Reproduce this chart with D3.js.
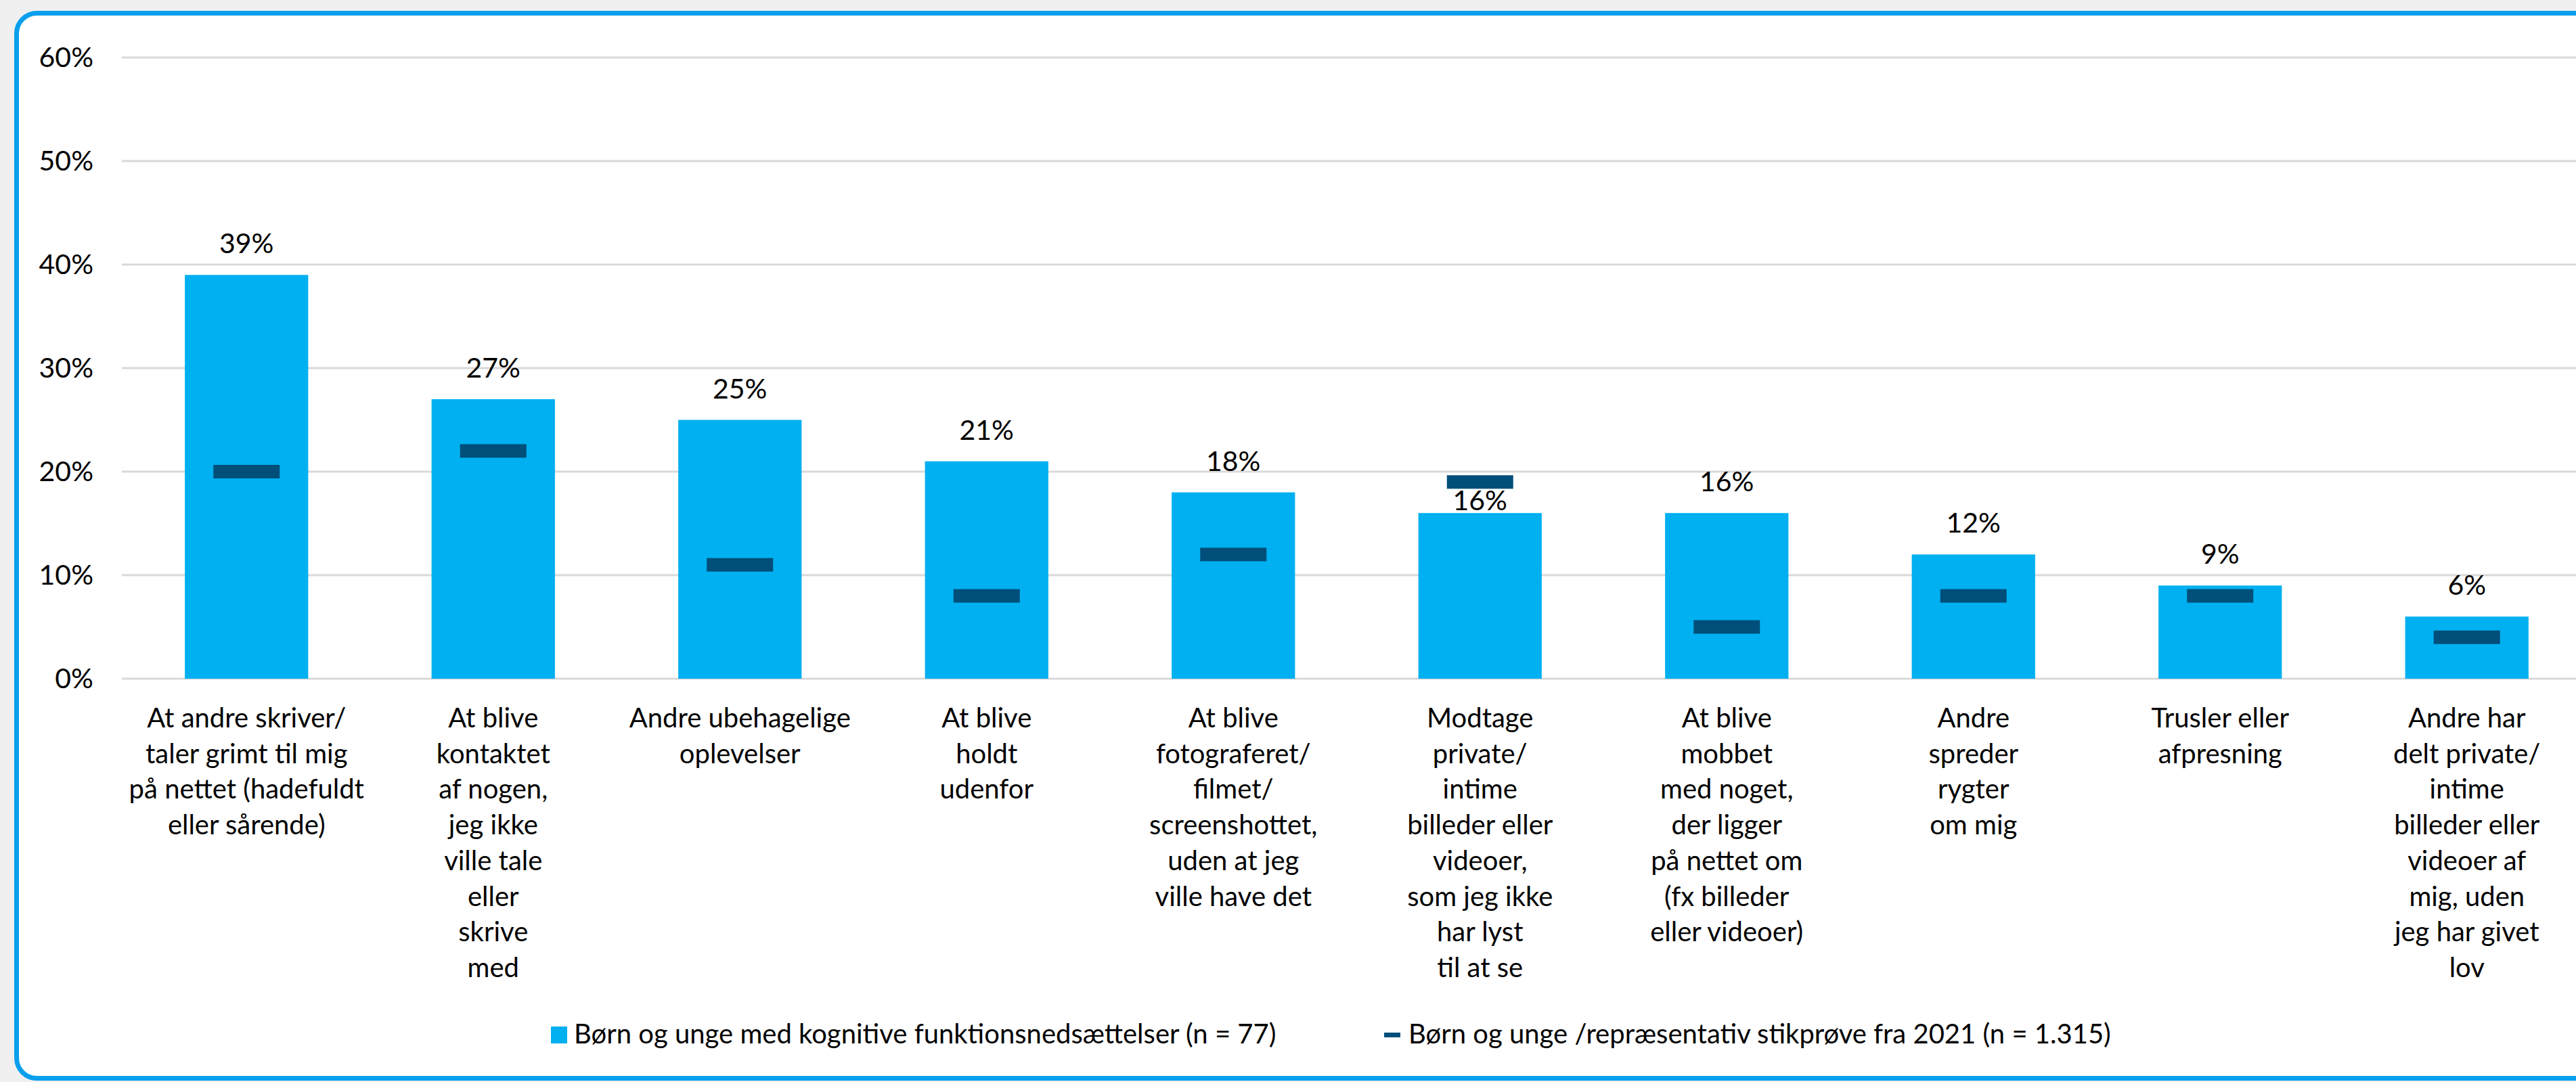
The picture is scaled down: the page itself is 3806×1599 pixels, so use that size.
<!DOCTYPE html>
<html>
<head>
<meta charset="utf-8">
<script src="https://cdn.jsdelivr.net/npm/d3@7"></script>
<style>
  html, body { margin: 0; padding: 0; background: #f0f0f0; }
  svg { display: block; }
  text { font-family: Lato, "Open Sans", sans-serif; fill: #000; }
</style>
</head>
<body>
<svg id="chart" width="3806" height="1599"></svg>
<script>
// ---- data ----
const categories = [
  ["At andre skriver/", "taler grimt til mig", "på nettet (hadefuldt", "eller sårende)"],
  ["At blive", "kontaktet", "af nogen,", "jeg ikke", "ville tale", "eller", "skrive", "med"],
  ["Andre ubehagelige", "oplevelser"],
  ["At blive", "holdt", "udenfor"],
  ["At blive", "fotograferet/", "filmet/", "screenshottet,", "uden at jeg", "ville have det"],
  ["Modtage", "private/", "intime", "billeder eller", "videoer,", "som jeg ikke", "har lyst", "til at se"],
  ["At blive", "mobbet", "med noget,", "der ligger", "på nettet om", "(fx billeder", "eller videoer)"],
  ["Andre", "spreder", "rygter", "om mig"],
  ["Trusler eller", "afpresning"],
  ["Andre har", "delt private/", "intime", "billeder eller", "videoer af", "mig, uden", "jeg har givet", "lov"]
];
const barValues = [0.39, 0.27, 0.25, 0.21, 0.18, 0.16, 0.16, 0.12, 0.09, 0.06];
const refValues = [0.20, 0.22, 0.11, 0.08, 0.12, 0.19, 0.05, 0.08, 0.08, 0.04];
const yTicks = [0, 0.1, 0.2, 0.3, 0.4, 0.5, 0.6];
const seriesNames = [
  "Børn og unge med kognitive funktionsnedsættelser (n = 77)",
  "Børn og unge /repræsentativ stikprøve fra 2021 (n = 1.315)"
];

// ---- layout ----
const W = 3806, H = 1599;
const plotLeft = 182, plotRight = 3827, plotTop = 85, plotBottom = 1003;
const barColor = "#00b0f0", refColor = "#004f7a", gridColor = "#d9d9d9";
const fmt = d3.format(".0%");

const svg = d3.select("#chart");

// card with rounded border (right side runs off the picture)
svg.append("rect")
  .attr("x", 24.5).attr("y", 19.5)
  .attr("width", 3900).attr("height", 1574)
  .attr("rx", 30).attr("ry", 30)
  .attr("fill", "#ffffff")
  .attr("stroke", "#0a9fec")
  .attr("stroke-width", 7);

const idx = d3.range(categories.length);
const x = d3.scaleBand().domain(idx).range([plotLeft, plotRight])
  .paddingInner(0.5).paddingOuter(0.25);
const y = d3.scaleLinear().domain([0, 0.6]).range([plotBottom, plotTop]);

// gridlines
svg.append("g").selectAll("line").data(yTicks).join("line")
  .attr("x1", plotLeft - 2).attr("x2", W)
  .attr("y1", d => y(d)).attr("y2", d => y(d))
  .attr("stroke", gridColor).attr("stroke-width", 3);

// y axis labels
const yAxis = svg.append("g").attr("transform", "translate(138,0)")
  .call(d3.axisLeft(y).tickValues(yTicks).tickFormat(fmt).tickSize(0).tickPadding(0));
yAxis.select(".domain").remove();
yAxis.selectAll("text")
  .style("font-family", "Lato, 'Open Sans', sans-serif")
  .attr("font-size", 41).attr("font-weight", 400).attr("fill", "#000");

// bars
svg.append("g").selectAll("rect").data(idx).join("rect")
  .attr("x", i => x(i)).attr("width", x.bandwidth())
  .attr("y", i => y(barValues[i]))
  .attr("height", i => y(0) - y(barValues[i]))
  .attr("fill", barColor);

// reference markers
const mW = 98, mH = 20;
svg.append("g").selectAll("rect").data(idx).join("rect")
  .attr("x", i => x(i) + x.bandwidth() / 2 - mW / 2)
  .attr("width", mW)
  .attr("y", i => y(refValues[i]) - mH / 2)
  .attr("height", mH)
  .attr("fill", refColor);

// value labels
svg.append("g").selectAll("text").data(idx).join("text")
  .attr("x", i => x(i) + x.bandwidth() / 2)
  .attr("y", i => {
    const top = y(barValues[i]);
    const mTop = y(refValues[i]) - mH / 2;
    // if the reference marker sits just above the bar, put the label between
    if (refValues[i] > barValues[i] && top - mTop < 70) return top - 4;
    return top - 32;
  })
  .attr("text-anchor", "middle")
  .attr("font-size", 41).attr("font-weight", 400)
  .text(i => fmt(barValues[i]));

// category labels (x axis)
const xAxis = svg.append("g").attr("transform", `translate(0,${plotBottom})`)
  .call(d3.axisBottom(x).tickSize(0).tickFormat(""));
xAxis.select(".domain").remove();
const lineH = 52.7;
xAxis.selectAll(".tick").each(function(i) {
  const t = d3.select(this).append("text")
    .attr("text-anchor", "middle")
    .attr("font-size", 40)
    .attr("y", 72);
  categories[i].forEach((ln, k) => {
    t.append("tspan").attr("x", 0).attr("y", 72 + k * lineH).text(ln);
  });
});

// legend
const lg = svg.append("g");
lg.append("rect").attr("x", 814).attr("y", 1517).attr("width", 24).attr("height", 25).attr("fill", barColor);
lg.append("text").attr("x", 848).attr("y", 1542).attr("font-size", 40).text(seriesNames[0]);
lg.append("rect").attr("x", 2045).attr("y", 1526).attr("width", 24).attr("height", 7).attr("fill", refColor);
lg.append("text").attr("x", 2081).attr("y", 1542).attr("font-size", 40).text(seriesNames[1]);
</script>
</body>
</html>
